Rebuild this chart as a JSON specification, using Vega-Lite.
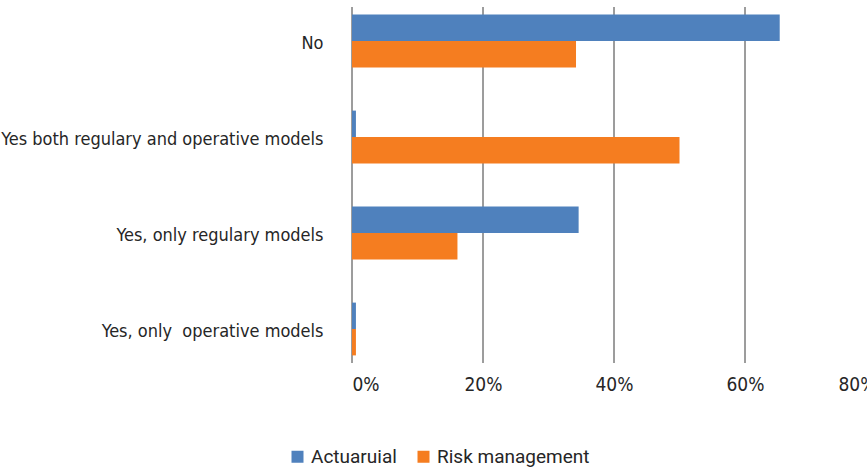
{
  "$schema": "https://vega.github.io/schema/vega-lite/v6.json",
  "width": 515,
  "height": 356,
  "autosize": {"type": "none"},
  "padding": {"left": 352, "top": 7, "right": 0, "bottom": 104},
  "background": "white",
  "config": {"view": {"stroke": null}},
  "layer": [
    {
      "data": {"values": [{"g": 0}, {"g": 0.2}, {"g": 0.4}, {"g": 0.6}, {"g": 0.8}]},
      "mark": {"type": "rule", "color": "#3a3a3a", "strokeWidth": 1},
      "encoding": {
        "x": {"field": "g", "type": "quantitative"}
      }
    },
    {
      "data": {
        "values": [
          {"category": "No", "series": "Actuaruial", "value": 0.653},
          {"category": "No", "series": "Risk management", "value": 0.342},
          {"category": "Yes both regulary and operative models", "series": "Actuaruial", "value": 0.006},
          {"category": "Yes both regulary and operative models", "series": "Risk management", "value": 0.5},
          {"category": "Yes, only regulary models", "series": "Actuaruial", "value": 0.346},
          {"category": "Yes, only regulary models", "series": "Risk management", "value": 0.161},
          {"category": "Yes, only  operative models", "series": "Actuaruial", "value": 0.006},
          {"category": "Yes, only  operative models", "series": "Risk management", "value": 0.006}
        ]
      },
      "mark": {"type": "bar"},
      "encoding": {
        "y": {
          "field": "category",
          "type": "nominal",
          "sort": ["No", "Yes both regulary and operative models", "Yes, only regulary models", "Yes, only  operative models"],
          "scale": {"range": [-14, 370], "paddingInner": 0.45, "paddingOuter": 0.225},
          "axis": {
            "title": null,
            "domain": false,
            "ticks": false,
            "grid": false,
            "labelPadding": 29,
            "labelOffset": 3,
            "labelExpr": "replace(datum.label, '  ', '\u00a0 ')",
            "labelFont": "Liberation Sans Narrow, DejaVu Sans Condensed, sans-serif",
            "labelFontSize": 18,
            "labelColor": "#262626",
            "labelLimit": 400
          }
        },
        "yOffset": {"field": "series", "sort": ["Actuaruial", "Risk management"]},
        "x": {
          "field": "value",
          "type": "quantitative",
          "scale": {"domain": [0, 0.8], "range": [0, 524], "nice": false},
          "axis": {
            "title": null,
            "values": [0, 0.2, 0.4, 0.6, 0.8],
            "format": ".0%",
            "domain": false,
            "ticks": false,
            "grid": false,
            "labelPadding": 12,
            "labelFlush": true,
            "labelFont": "Liberation Sans Narrow, DejaVu Sans Condensed, sans-serif",
            "labelFontSize": 19,
            "labelColor": "#262626"
          }
        },
        "color": {
          "field": "series",
          "type": "nominal",
          "scale": {"domain": ["Actuaruial", "Risk management"], "range": ["#4F81BD", "#F57D20"]},
          "legend": {
            "title": null,
            "orient": "none",
            "direction": "horizontal",
            "legendX": -64,
            "legendY": 440,
            "symbolType": "square",
            "symbolSize": 144,
            "symbolStrokeWidth": 0,
            "labelFont": "Roboto, sans-serif",
            "labelFontSize": 19,
            "labelColor": "#262626",
            "columnPadding": 17,
            "labelOffset": 4
          }
        }
      }
    }
  ]
}
